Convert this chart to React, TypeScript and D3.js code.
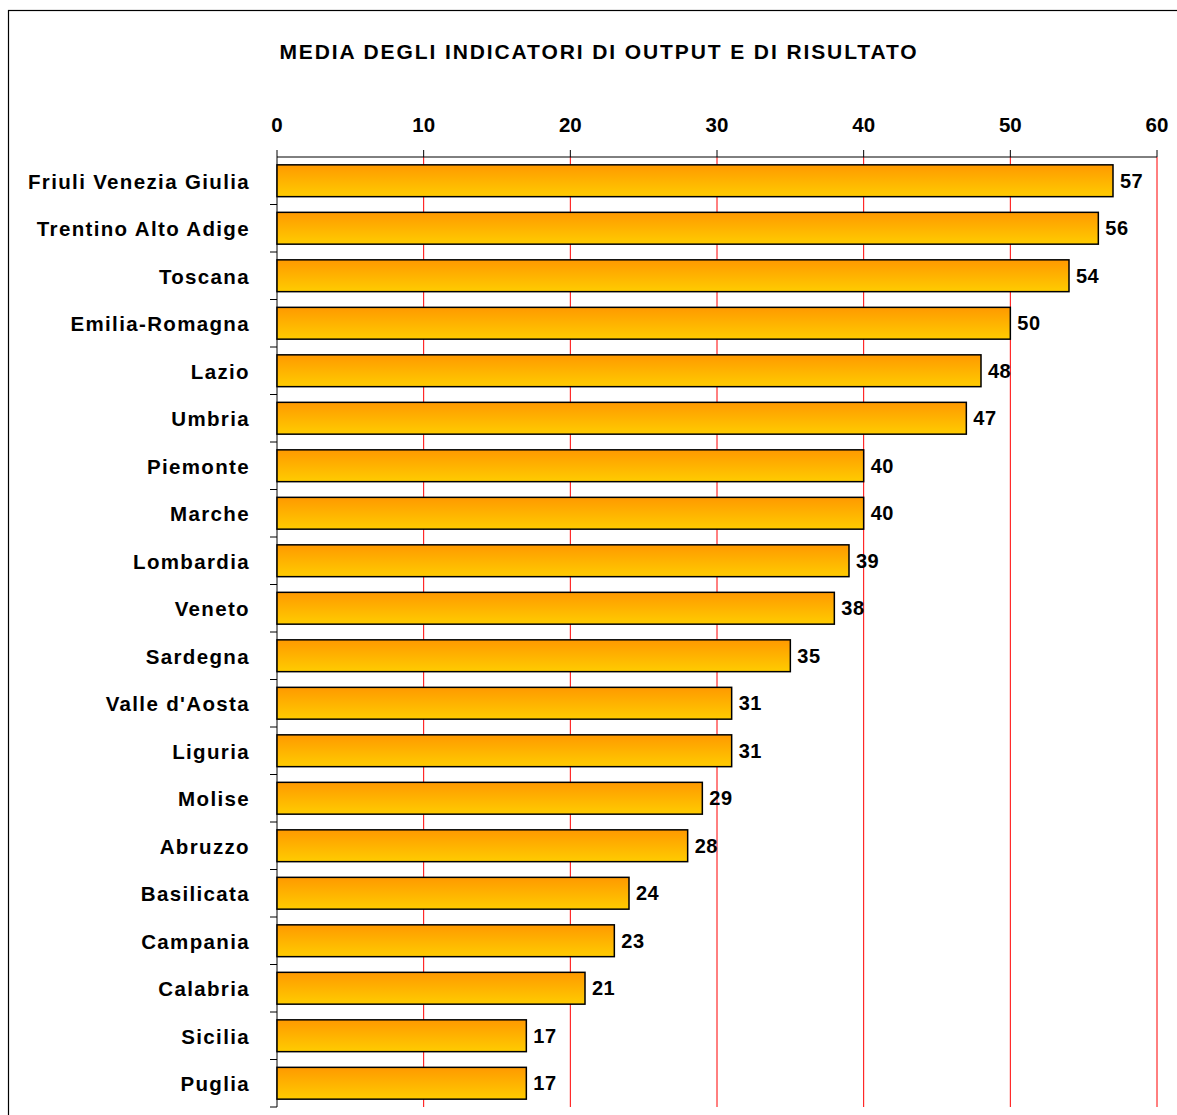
import React from "react";
import * as d3 from "d3";

const title = "MEDIA DEGLI INDICATORI DI OUTPUT E DI RISULTATO";
const regions = [
  "Friuli Venezia Giulia", "Trentino Alto Adige", "Toscana", "Emilia-Romagna", "Lazio",
  "Umbria", "Piemonte", "Marche", "Lombardia", "Veneto", "Sardegna", "Valle d'Aosta",
  "Liguria", "Molise", "Abruzzo", "Basilicata", "Campania", "Calabria", "Sicilia", "Puglia",
];
const values = [57, 56, 54, 50, 48, 47, 40, 40, 39, 38, 35, 31, 31, 29, 28, 24, 23, 21, 17, 17];
const xTicks = [0, 10, 20, 30, 40, 50, 60];

export default function App() {
  const left = 277, right = 1157, top = 157, bottom = 1107;
  const x = d3.scaleLinear().domain([0, 60]).range([left, right]);
  const y = d3.scaleBand<string>().domain(regions).range([top, bottom]).paddingInner(0.33).paddingOuter(0.165);
  const step = (bottom - top) / regions.length;
  const font = "Arial, 'Liberation Sans', sans-serif";
  return (
    <svg width={1177} height={1115} style={{ position: "absolute", left: 0, top: 0, background: "#fff" }}>
      <defs>
        <linearGradient id="barg" x1="0" y1="0" x2="0" y2="1">
          <stop offset="0" stopColor="#FF9900" />
          <stop offset="1" stopColor="#FFCC00" />
        </linearGradient>
      </defs>
      <rect x={8.5} y={10.5} width={1200} height={1200} fill="#fff" stroke="#000" strokeWidth={1.2} />
      <text x={599} y={59} textAnchor="middle" fontFamily={font} fontWeight="bold" fontSize={21} letterSpacing={1.9}>{title}</text>
      {xTicks.map((t) => (
        <g key={t}>
          {t > 0 && <line x1={x(t)} x2={x(t)} y1={top} y2={bottom} stroke="#FF0000" strokeWidth={1} />}
          <line x1={x(t)} x2={x(t)} y1={top - 7} y2={top} stroke="#000" strokeWidth={1} />
          <text x={x(t)} y={132} textAnchor="middle" fontFamily={font} fontWeight="bold" fontSize={20.5}>{t}</text>
        </g>
      ))}
      <line x1={left} x2={right} y1={top} y2={top} stroke="#000" strokeWidth={1} />
      <line x1={left} x2={left} y1={top} y2={bottom} stroke="#000" strokeWidth={1} />
      {regions.map((_, i) => (
        <line key={"t" + i} x1={left - 7} x2={left} y1={top + step * (i + 1)} y2={top + step * (i + 1)} stroke="#000" strokeWidth={1} />
      ))}
      {regions.map((r, i) => (
        <g key={r}>
          <rect x={x(0)} y={y(r)!} width={x(values[i]) - x(0)} height={y.bandwidth()} fill="url(#barg)" stroke="#000" strokeWidth={1.5} />
          <text x={x(values[i]) + 7} y={y(r)! + y.bandwidth() / 2 + 7} fontFamily={font} fontWeight="bold" fontSize={20} letterSpacing={0.5}>{values[i]}</text>
          <text x={250} y={y(r)! + y.bandwidth() / 2 + 8} textAnchor="end" fontFamily={font} fontWeight="bold" fontSize={20.5} letterSpacing={1.35}>{r}</text>
        </g>
      ))}
    </svg>
  );
}
